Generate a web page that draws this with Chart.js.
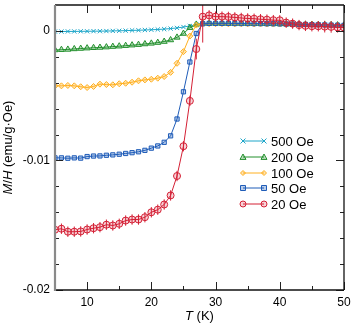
<!DOCTYPE html>
<html>
<head>
<meta charset="utf-8">
<script src="https://cdn.jsdelivr.net/npm/chart.js@4"></script>
<style>
  html, body { margin: 0; padding: 0; background: #fff; }
</style>
</head>
<body>
<canvas id="chart" width="353" height="325"></canvas>
<script>
// temperature (K)
const temps = [5, 6, 7, 8, 9, 10, 11, 12, 13, 14, 15, 16, 17, 18, 19, 20, 21, 22, 23, 24, 25, 26, 27, 28,
  29, 30, 31, 32, 33, 34, 35, 36, 37, 38, 39, 40, 41, 42, 43, 44, 45, 46, 47, 48, 49, 50];

// M/H (emu/g·Oe) for each field
const oe500 = [-0.00005, -0.00005, -0.00004, -0.00004, -0.00003, -0.00003, -0.00002, -0.00002, -0.00001, 0, 0.00001, 0.00002,
  0.00004, 0.00005, 0.00007, 0.00009, 0.00011, 0.00014, 0.00018, 0.00023, 0.0003, 0.00038, 0.00048, 0.00058,
  0.0006, 0.0006, 0.0006, 0.0006, 0.00059, 0.00059, 0.00059, 0.00058, 0.00058, 0.00058, 0.00058, 0.00058,
  0.00056, 0.00054, 0.00052, 0.0005, 0.00049, 0.00048, 0.00047, 0.00046, 0.00045, 0.00045];
const oe200 = [-0.00147, -0.00145, -0.00143, -0.00139, -0.00136, -0.00133, -0.0013, -0.00128, -0.00125, -0.00121, -0.00118, -0.00114,
  -0.0011, -0.00106, -0.00101, -0.00096, -0.0009, -0.00082, -0.0007, -0.0005, -0.0002, 0.00025, 0.0005, 0.00058,
  0.00058, 0.00058, 0.00058, 0.00057, 0.00057, 0.00057, 0.00056, 0.00056, 0.00056, 0.00055, 0.00055, 0.00054,
  0.00053, 0.00052, 0.00051, 0.0005, 0.00049, 0.00048, 0.00047, 0.00046, 0.00045, 0.00044];
const oe100 = [-0.00424, -0.00424, -0.00421, -0.00424, -0.00431, -0.00437, -0.00429, -0.00411, -0.00414, -0.00416, -0.00408, -0.00404,
  -0.00396, -0.00385, -0.00378, -0.00373, -0.00365, -0.00352, -0.0032, -0.0025, -0.0016, -0.0004, 0.00045, 0.00055,
  0.00056, 0.00056, 0.00056, 0.00055, 0.00055, 0.00055, 0.00055, 0.00054, 0.00054, 0.00054, 0.00053, 0.00053,
  0.00052, 0.00051, 0.0005, 0.00049, 0.00048, 0.00047, 0.00046, 0.00045, 0.00044, 0.00043];
const oe50 = [-0.0098, -0.0098, -0.00983, -0.0098, -0.00982, -0.0097, -0.00966, -0.00965, -0.0096, -0.00957, -0.00952, -0.00946,
  -0.0094, -0.00933, -0.00922, -0.00905, -0.00888, -0.0086, -0.0081, -0.0068, -0.0047, -0.0024, -0.0002, 0.00055,
  0.00058, 0.00058, 0.00058, 0.00058, 0.00057, 0.00057, 0.00057, 0.00056, 0.00056, 0.00055, 0.00055, 0.00054,
  0.00053, 0.00052, 0.00051, 0.0005, 0.00048, 0.00047, 0.00046, 0.00045, 0.00044, 0.00043];
const oe20 = [-0.01535, -0.01527, -0.0155, -0.0155, -0.01548, -0.01533, -0.01523, -0.01515, -0.01496, -0.01502, -0.01489, -0.01464,
  -0.01456, -0.01456, -0.01438, -0.014, -0.0138, -0.0134, -0.0127, -0.0112, -0.0089, -0.0054, -0.0014, 0.0011,
  0.0012, 0.0011, 0.0011, 0.00108, 0.00104, 0.001, 0.00096, 0.00094, 0.0009, 0.00087, 0.00083, 0.00082,
  0.00064, 0.00056, 0.00045, 0.00039, 0.00036, 0.00036, 0.00033, 0.00031, 0.00027, 0.00026];
// error bars of the 20 Oe curve
const oe20err = [0.0004, 0.0004, 0.0004, 0.0004, 0.0004, 0.0004, 0.0004, 0.0004, 0.0004, 0.0004, 0.0004, 0.0004,
  0.0004, 0.0004, 0.0004, 0.0004, 0.0004, 0.0004, 0.0004, 0.0004, 0.0004, 0.0004, 0.0008, 0.002,
  0.0004, 0.0004, 0.0004, 0.0004, 0.0004, 0.0004, 0.0004, 0.0004, 0.0004, 0.0004, 0.0004, 0.0004,
  0.0004, 0.0004, 0.0004, 0.0004, 0.0004, 0.0004, 0.00045, 0.00045, 0.0004, 0.0004];

const xTicks = [10, 20, 30, 40, 50];
const xMinor = [15, 25, 35, 45];
const yTicks = [-0.02, -0.01, 0];
const yMinor = [-0.018, -0.016, -0.014, -0.012, -0.008, -0.006, -0.004, -0.002];

const FONT = "'Liberation Sans', Arial, Helvetica, sans-serif";

const series = [
  { label: '500 Oe', values: oe500, color: '#1fa6c9', fill: 'rgba(31,166,201,0.35)', style: 'crossRot', r: 3, order: 5 },
  { label: '200 Oe', values: oe200, color: '#23902d', fill: 'rgba(35,144,45,0.3)', style: 'triangle', r: 3.5, order: 4 },
  { label: '100 Oe', values: oe100, color: '#ffb020', fill: 'rgba(255,176,32,0.35)', style: 'rectRot', r: 3, order: 3 },
  { label: '50 Oe', values: oe50, color: '#1f5cb8', fill: 'rgba(31,92,184,0.3)', style: 'rect', r: 3, order: 2 },
  { label: '20 Oe', values: oe20, color: '#d42035', fill: 'rgba(212,32,53,0.2)', style: 'circle', r: 3.5, order: 1 }
];

function drawMarker(ctx, style, x, y, r, stroke, fill) {
  ctx.save();
  ctx.strokeStyle = stroke;
  ctx.fillStyle = fill;
  ctx.lineWidth = 1;
  ctx.beginPath();
  if (style === 'crossRot') {
    ctx.moveTo(x - r, y - r); ctx.lineTo(x + r, y + r);
    ctx.moveTo(x + r, y - r); ctx.lineTo(x - r, y + r);
    ctx.stroke();
  } else {
    if (style === 'triangle') {
      ctx.moveTo(x, y - r); ctx.lineTo(x + r, y + r * 0.8); ctx.lineTo(x - r, y + r * 0.8);
    } else if (style === 'rectRot') {
      ctx.moveTo(x, y - r); ctx.lineTo(x + r, y); ctx.lineTo(x, y + r); ctx.lineTo(x - r, y);
    } else if (style === 'rect') {
      ctx.rect(x - r, y - r, 2 * r, 2 * r);
    } else {
      ctx.arc(x, y, r, 0, Math.PI * 2);
    }
    ctx.closePath();
    ctx.fill();
    ctx.stroke();
  }
  ctx.restore();
}

function line(ctx, x1, y1, x2, y2) {
  ctx.beginPath(); ctx.moveTo(x1, y1); ctx.lineTo(x2, y2); ctx.stroke();
}

// draws parts [text, italic] centred at 0,0 of current transform
function mixedText(ctx, parts, size) {
  let total = 0;
  const widths = parts.map(p => {
    ctx.font = (p[1] ? 'italic ' : '') + size + 'px ' + FONT;
    const w = ctx.measureText(p[0]).width;
    total += w;
    return w;
  });
  let x = -total / 2;
  parts.forEach((p, i) => {
    ctx.font = (p[1] ? 'italic ' : '') + size + 'px ' + FONT;
    ctx.fillText(p[0], x, 0);
    x += widths[i];
  });
}

const decor = {
  id: 'decor',
  afterDatasetsDraw(chart) {
    const { ctx, chartArea: a, scales: { x, y } } = chart;
    ctx.save();
    ctx.beginPath();
    ctx.rect(a.left, a.top, a.right - a.left, a.bottom - a.top);
    ctx.clip();
    ctx.strokeStyle = series[4].color;
    ctx.lineWidth = 1;
    temps.forEach((t, i) => {
      const px = x.getPixelForValue(t);
      line(ctx, px, y.getPixelForValue(oe20[i] + oe20err[i]), px, y.getPixelForValue(oe20[i] - oe20err[i]));
    });
    ctx.restore();
  },
  afterDraw(chart) {
    const { ctx, chartArea: a, scales: { x, y } } = chart;
    ctx.save();
    // tick marks, pointing inward on all four sides
    ctx.strokeStyle = '#222';
    ctx.lineWidth = 1;
    xTicks.forEach(v => {
      const px = Math.round(x.getPixelForValue(v)) + 0.5;
      line(ctx, px, a.bottom, px, a.bottom - 8);
      line(ctx, px, a.top, px, a.top + 8);
    });
    xMinor.forEach(v => {
      const px = Math.round(x.getPixelForValue(v)) + 0.5;
      line(ctx, px, a.bottom, px, a.bottom - 4);
      line(ctx, px, a.top, px, a.top + 4);
    });
    yTicks.forEach(v => {
      const py = Math.round(y.getPixelForValue(v)) + 0.5;
      line(ctx, a.left, py, a.left + 8, py);
      line(ctx, a.right, py, a.right - 8, py);
    });
    yMinor.forEach(v => {
      const py = Math.round(y.getPixelForValue(v)) + 0.5;
      line(ctx, a.left, py, a.left + 4, py);
      line(ctx, a.right, py, a.right - 4, py);
    });
    // frame
    ctx.lineWidth = 1.3;
    ctx.strokeStyle = '#111';
    line(ctx, a.left, a.bottom, a.right, a.bottom);
    line(ctx, a.right, a.bottom, a.right, a.top);
    line(ctx, a.right, a.top, a.left, a.top);
    ctx.lineWidth = 2.2;
    ctx.strokeStyle = '#8a8a8a';
    line(ctx, a.left, a.top, a.left, a.bottom + 1);

    // axis titles
    ctx.fillStyle = '#000';
    ctx.textBaseline = 'middle';
    ctx.save();
    ctx.translate((a.left + a.right) / 2, 316);
    mixedText(ctx, [['T', true], [' (K)', false]], 13);
    ctx.restore();
    ctx.save();
    ctx.translate(8, (a.top + a.bottom) / 2);
    ctx.rotate(-Math.PI / 2);
    mixedText(ctx, [['M', true], ['/', false], ['H', true], [' (emu/g\u00b7Oe)', false]], 13);
    ctx.restore();

    // legend
    const rows = [141, 157, 173, 188, 204];
    series.forEach((s, i) => {
      const ly = rows[i];
      ctx.strokeStyle = s.color;
      ctx.lineWidth = 1;
      line(ctx, 243, ly, 264, ly);
      drawMarker(ctx, s.style, 243, ly, s.r - 0.5, s.color, s.fill);
      drawMarker(ctx, s.style, 264, ly, s.r - 0.5, s.color, s.fill);
      ctx.fillStyle = '#000';
      ctx.font = '13px ' + FONT;
      ctx.textAlign = 'left';
      ctx.fillText(s.label, 271, ly + 1);
    });
    ctx.restore();
  }
};

new Chart(document.getElementById('chart'), {
  type: 'line',
  data: {
    datasets: series.map(s => ({
      label: s.label,
      data: temps.map((t, i) => ({ x: t, y: s.values[i] })),
      borderColor: s.color,
      backgroundColor: s.fill,
      borderWidth: 1,
      pointStyle: s.style,
      pointRadius: s.r,
      pointBorderWidth: 1,
      pointBorderColor: s.color,
      pointBackgroundColor: s.fill,
      tension: 0,
      fill: false,
      order: s.order
    }))
  },
  options: {
    responsive: false,
    animation: false,
    layout: { padding: { left: 0, right: 9, top: 2, bottom: 0 } },
    plugins: {
      legend: { display: false },
      tooltip: { enabled: false }
    },
    scales: {
      x: {
        type: 'linear',
        min: 5,
        max: 50,
        afterBuildTicks: s => { s.ticks = xTicks.map(v => ({ value: v })); },
        afterFit: s => { s.height = 35; s.paddingLeft = 0; s.paddingRight = 0; },
        grid: { display: false, drawTicks: false },
        border: { display: false },
        ticks: { padding: 5, color: '#000', font: { family: FONT, size: 12 }, maxRotation: 0 }
      },
      y: {
        min: -0.02,
        max: 0.002,
        afterBuildTicks: s => { s.ticks = yTicks.map(v => ({ value: v })); },
        afterFit: s => { s.width = 55; s.paddingTop = 0; s.paddingBottom = 0; },
        grid: { display: false, drawTicks: false },
        border: { display: false },
        ticks: {
          padding: 5,
          color: '#000',
          font: { family: FONT, size: 12 },
          callback: v => (v === 0 ? '0' : v.toFixed(2))
        }
      }
    }
  },
  plugins: [decor]
});
</script>
</body>
</html>
